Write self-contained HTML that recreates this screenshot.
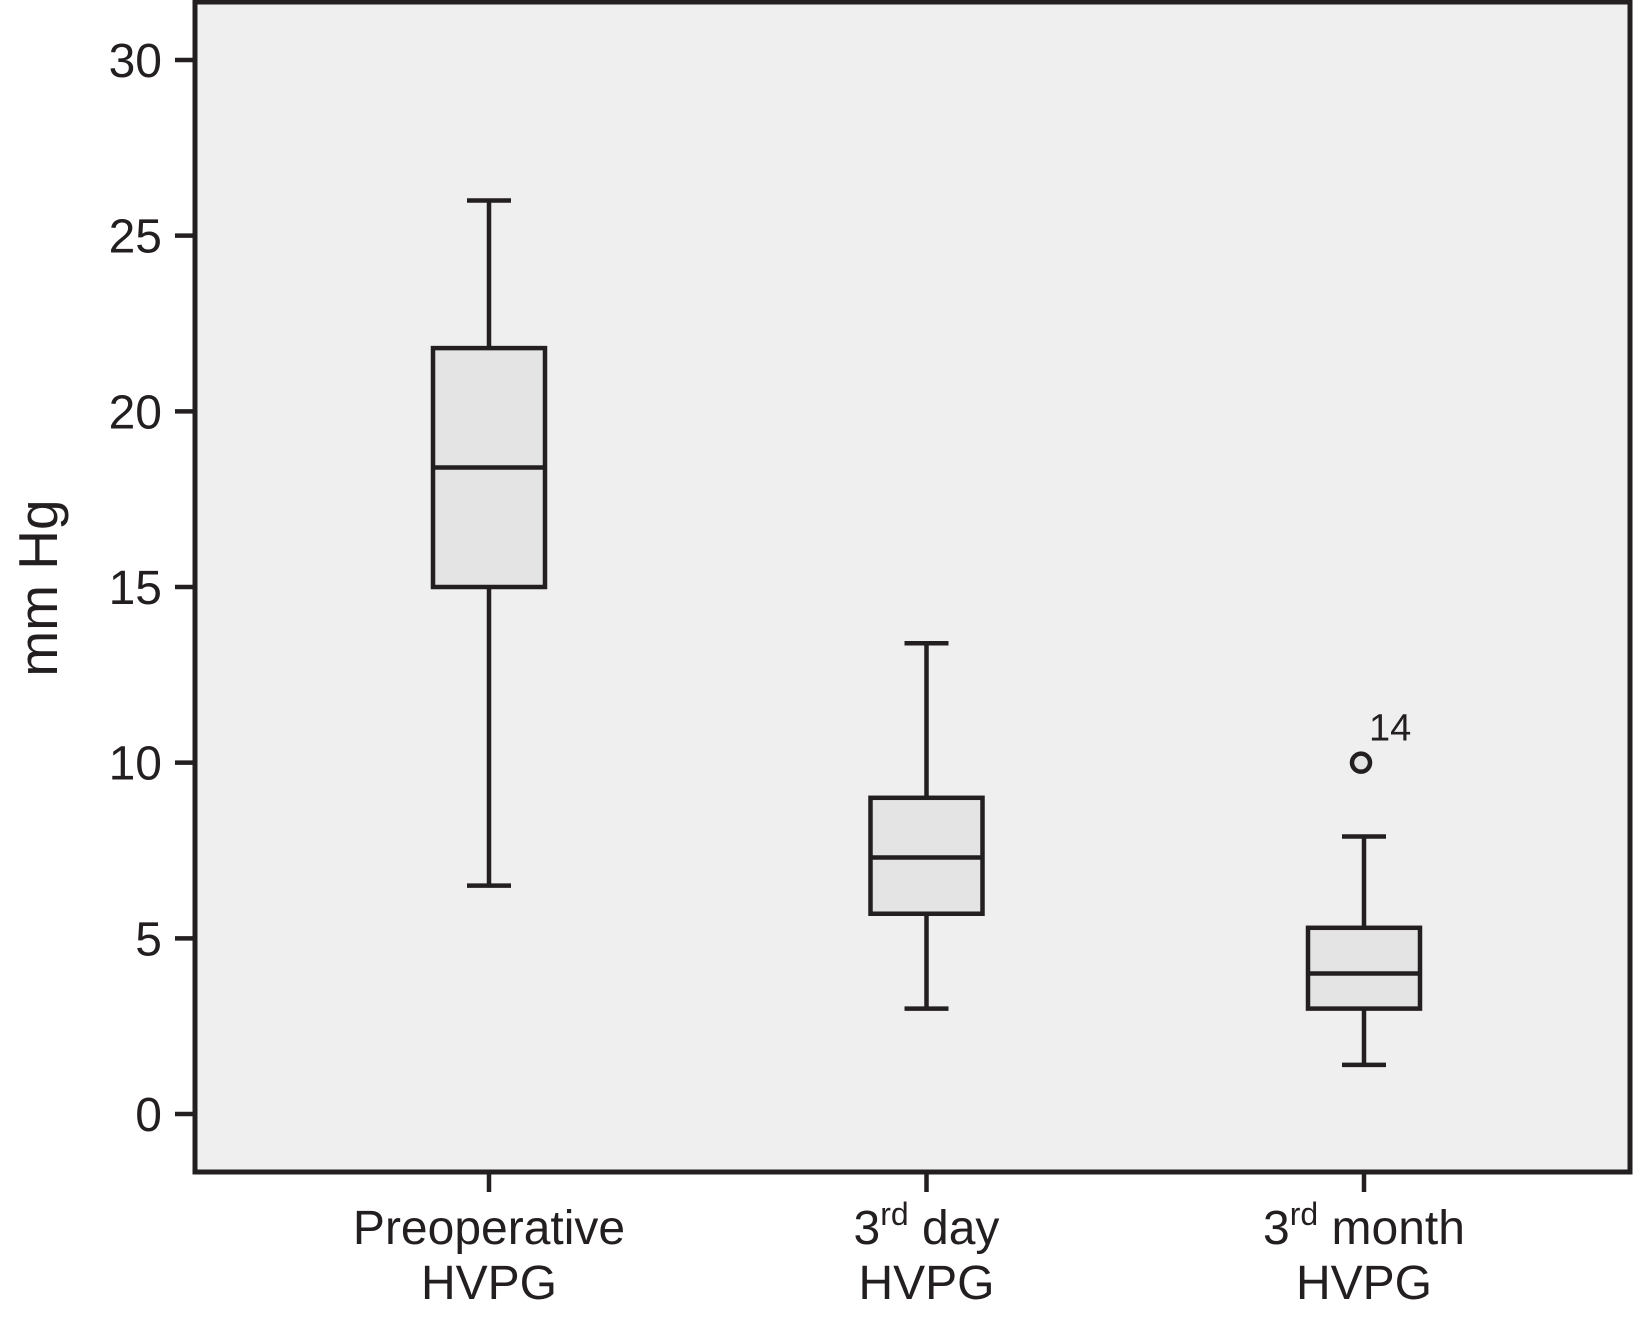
<!DOCTYPE html>
<html><head><meta charset="utf-8"><style>
html,body{margin:0;padding:0;background:#fff;}
svg{display:block;font-family:"Liberation Sans",Arial,sans-serif;}
</style></head><body>
<svg id="chart" width="1633" height="1332" viewBox="0 0 1633 1332" xmlns="http://www.w3.org/2000/svg">
<rect x="195" y="2" width="1435" height="1170" fill="#efefef" stroke="#231f20" stroke-width="5"/>
<text transform="translate(57,588) rotate(-90)" text-anchor="middle" font-size="55" fill="#231f20">mm Hg</text>
<g id="g"></g>
</svg>
<script>
const categories = [["Preoperative","HVPG"],["3rd day","HVPG"],["3rd month","HVPG"]];
const whiskerHigh = [26, 13.4, 7.9];
const q3 = [21.8, 9, 5.3];
const median = [18.4, 7.3, 4.0];
const q1 = [15, 5.7, 3.0];
const whiskerLow = [6.5, 3, 1.4];
const outlierValues = [null, null, 10];
const outlierLabels = [null, null, "14"];
const yTicks = [0,5,10,15,20,25,30];

const ns="http://www.w3.org/2000/svg";
const g=document.getElementById('g');
const C="#231f20";
const SW=4.5;
function y(v){return 1114 - v*(1114-60)/30;}
function x(i){return 489 + i*437.5;}
function mk(tag,attrs,parent){const e=document.createElementNS(ns,tag);for(const k in attrs)e.setAttribute(k,attrs[k]);(parent||g).appendChild(e);return e;}

yTicks.forEach(t=>{
  const tk=mk('line',{x1:175,x2:195,y1:y(t),y2:y(t),stroke:C,'stroke-width':SW});
  
  
  const lb=mk('text',{x:162,y:y(t)+17,'text-anchor':'end','font-size':48,fill:C});
  lb.textContent=t;
  
  
});

categories.forEach((c,i)=>{
  const cx=x(i);
  const tk=mk('line',{x1:cx,x2:cx,y1:1172,y2:1192,stroke:C,'stroke-width':SW});
  
  
  const t=mk('text',{x:cx,y:1244,'text-anchor':'middle','font-size':48,fill:C});
  
  
  const m=c[0].match(/^(\d)(rd)(.*)$/);
  if(m){
    const a=document.createElementNS(ns,'tspan');a.textContent=m[1];t.appendChild(a);
    const b=document.createElementNS(ns,'tspan');b.textContent=m[2];b.setAttribute('font-size','32');b.setAttribute('dy','-19');t.appendChild(b);
    const d=document.createElementNS(ns,'tspan');d.textContent=m[3];d.setAttribute('dy','19');t.appendChild(d);
  } else t.textContent=c[0];
  const t2=mk('text',{x:cx,y:1299,'text-anchor':'middle','font-size':48,fill:C});
  t2.textContent=c[1];
  
  

  const w=mk('line',{x1:cx,x2:cx,y1:y(whiskerHigh[i]),y2:y(whiskerLow[i]),stroke:C,'stroke-width':SW});
  
  
  [whiskerHigh[i],whiskerLow[i]].forEach(v=>{
    const cap=mk('line',{x1:cx-22,x2:cx+22,y1:y(v),y2:y(v),stroke:C,'stroke-width':SW});
    
    
  });
  const box=mk('rect',{x:cx-56,y:y(q3[i]),width:112,height:y(q1[i])-y(q3[i]),fill:'#e4e4e4',stroke:C,'stroke-width':SW});
  
  
  const md=mk('line',{x1:cx-56,x2:cx+56,y1:y(median[i]),y2:y(median[i]),stroke:C,'stroke-width':SW});
  
  
  if(outlierValues[i]!=null){
    const o=mk('circle',{cx:cx-3,cy:y(outlierValues[i]),r:9,fill:'#e4e4e4',stroke:C,'stroke-width':SW});
    
    
    const ol=mk('text',{x:cx+5,y:y(outlierValues[i])-22,'font-size':38,fill:C});
    ol.textContent=outlierLabels[i];
    
    
  }
});
</script>
</body></html>
